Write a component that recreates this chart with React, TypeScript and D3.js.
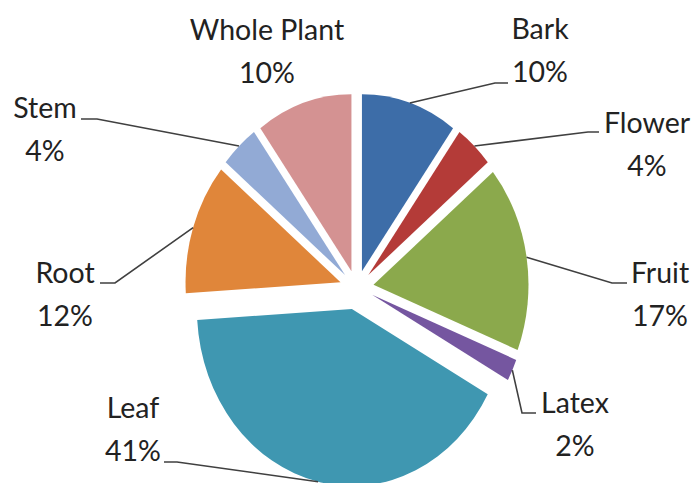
import React from "react";
import * as d3 from "d3";

const categories = ["Bark", "Flower", "Fruit", "Latex", "Leaf", "Root", "Stem", "Whole Plant"];
const values = [10, 4, 17, 2, 41, 12, 4, 10];
const colors = ["#3D6DA8", "#B43B38", "#8BA94C", "#7556A0", "#3F97B1", "#E0863A", "#92AAD5", "#D49292"];
const explode = [17, 17, 17, 17, 22, 17, 17, 17];

// label layout: text centre x, first baseline y, and leader elbow / end points
const labelLayout: Record<string, { x: number; y: number; leader?: [number, number][] }> = {
  "Bark": { x: 540, y: 39, leader: [[495, 83], [508, 83]] },
  "Flower": { x: 647, y: 133, leader: [[588, 132], [599, 132]] },
  "Fruit": { x: 660, y: 283, leader: [[612, 283], [627, 283]] },
  "Latex": { x: 575, y: 413, leader: [[522, 413], [536, 413]] },
  "Leaf": { x: 133, y: 418, leader: [[177, 462], [164, 462]] },
  "Root": { x: 65, y: 283, leader: [[115, 283], [100, 283]] },
  "Stem": { x: 45, y: 118, leader: [[97, 119], [81, 119]] },
  "Whole Plant": { x: 267, y: 40 },
};

const W = 695, H = 483;
const cx = 356.7, cy = 287.5, rx = 155, ry = 177;

export default function App() {
  const data = categories.map((c, i) => ({ c, v: values[i], i }));
  const pie = d3.pie<any>().value((d) => d.v).sort(null).startAngle(0).endAngle(2 * Math.PI);
  const arcs = pie(data);
  const arc = d3.arc<any>().innerRadius(0).outerRadius(ry);
  const sx = rx / ry;
  const lineH = 43;

  return (
    <svg width={W} height={H} style={{ position: "absolute", left: 0, top: 0 }}
      fontFamily="Lato, 'Open Sans', sans-serif">
      <rect width={W} height={H} fill="#fff" />
      {arcs.map((a) => {
        const mid = (a.startAngle + a.endAngle) / 2;
        const d = explode[a.data.i];
        const ox = Math.sin(mid) * d, oy = -Math.cos(mid) * d;
        return (
          <g key={a.data.c} transform={`translate(${cx + ox},${cy + oy}) scale(${sx},1)`}>
            <path d={arc(a) as string} fill={colors[a.data.i]} />
          </g>
        );
      })}
      {arcs.map((a) => {
        const L = labelLayout[a.data.c];
        if (!L.leader) return null;
        const mid = (a.startAngle + a.endAngle) / 2;
        const d = explode[a.data.i];
        const sxp = cx + Math.sin(mid) * (d + rx);
        const syp = cy - Math.cos(mid) * (d + ry);
        const pts: [number, number][] = [[sxp, syp], ...L.leader];
        return (
          <path key={"l" + a.data.c} d={d3.line()(pts) as string} fill="none" stroke="#404040" strokeWidth={1.6} />
        );
      })}
      {arcs.map((a) => {
        const L = labelLayout[a.data.c];
        return (
          <text key={"t" + a.data.c} x={L.x} y={L.y} textAnchor="middle" fontSize={28.5} fill="#222">
            <tspan x={L.x} y={L.y}>{a.data.c}</tspan>
            <tspan x={L.x} y={L.y + lineH}>{a.data.v + "%"}</tspan>
          </text>
        );
      })}
    </svg>
  );
}
